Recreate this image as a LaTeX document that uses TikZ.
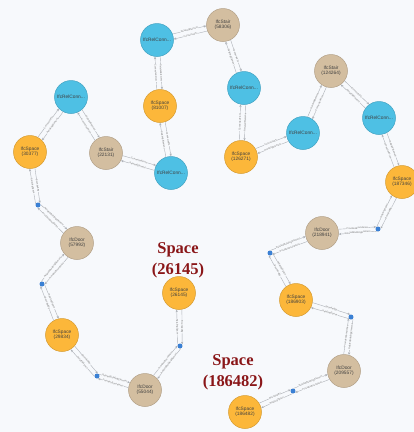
\documentclass[tikz,border=0pt]{standalone}
\usepackage{fontspec}
\setmainfont{Liberation Serif}
\newfontfamily\graphfont{Liberation Sans}
\usetikzlibrary{arrows.meta,calc}
\definecolor{bgpale}{RGB}{247,249,252}
\definecolor{relblue}{RGB}{78,192,228}
\definecolor{spaceorange}{RGB}{252,183,58}
\definecolor{elemtan}{RGB}{211,190,160}
\definecolor{linkgray}{RGB}{172,176,182}
\definecolor{dotblue}{RGB}{58,128,212}
\definecolor{titlered}{RGB}{138,22,24}

\tikzset{
  ent/.style={circle,minimum size=33pt,inner sep=0pt,align=center,line width=0.5pt,
    font=\graphfont\fontsize{4.8}{5.4}\selectfont,text=black!75},
  relc/.style={ent,fill=relblue,draw=relblue!85!black},
  spc/.style={ent,fill=spaceorange,draw=spaceorange!85!black},
  elm/.style={ent,fill=elemtan,draw=elemtan!85!black},
  bnd/.style={circle,fill=dotblue,minimum size=5pt,inner sep=0pt},
  link/.style={draw=linkgray,line width=0.4pt,-{Stealth[length=2.6pt,width=2.2pt]}},
  linklbl/.style={sloped,fill=bgpale,inner sep=0.3pt,text=black!55,
    font=\graphfont\fontsize{2.4}{2.6}\selectfont},
  callout/.style={align=center,text=titlered,font=\fontsize{16.5}{21}\selectfont\bfseries}
}

% two opposite arrows between a pair of nodes (#5 = spread at the far end)
\newcommand{\twoway}[5]{%
  \pgfmathanglebetweenpoints{\pgfpointanchor{#1}{center}}{\pgfpointanchor{#2}{center}}%
  \let\ang\pgfmathresult
  \pgfmathsetmacro\angA{\ang+9}\pgfmathsetmacro\angB{\ang+180-#5}%
  \pgfmathsetmacro\angC{\ang+180+#5}\pgfmathsetmacro\angD{\ang-9}%
  \draw[link] (#1.\angA) -- node[linklbl]{#3} (#2.\angB);
  \draw[link] (#2.\angC) -- node[linklbl]{#4} (#1.\angD);
}

\begin{document}
\begin{tikzpicture}[x=1pt,y=-1pt]
\fill[bgpale] (0,0) rectangle (414,432);
\useasboundingbox (0,0) rectangle (414,432);

% --- relation nodes ---
\node[relc] (rcA) at (157,40) {IfcRelConn...};
\node[relc] (rcB) at (71,97) {IfcRelConn...};
\node[relc] (rcC) at (171,173) {IfcRelConn...};
\node[relc] (rcD) at (244,88) {IfcRelConn...};
\node[relc] (rcE) at (303,133) {IfcRelConn...};
\node[relc] (rcF) at (379,118) {IfcRelConn...};

% --- stairs and doors ---
\foreach \x/\y/\t in {223/25/58306, 106/153/22131, 331/71/124264}
  \node[elm] (st\t) at (\x,\y) {IfcStair\\(\t)};
\foreach \x/\y/\t in {77/243/57992, 145/390/55044, 322/233/218941, 344/371/209557}
  \node[elm] (dr\t) at (\x,\y) {IfcDoor\\(\t)};

% --- spaces ---
\foreach \x/\y/\t in {160/106/81007, 30/152/30377, 241/157/126271, 402/182/187346,
    179/293/26145, 62/335/29834, 296/300/186903, 245/412/186482}
  \node[spc] (sp\t) at (\x,\y) {IfcSpace\\(\t)};

% --- space boundaries ---
\foreach \x/\y/\t in {38/205/1, 42/284/2, 180/346/3, 97/376/4, 378/229/5, 270/253/6, 351/317/7, 293/391/8}
  \node[bnd] (bd\t) at (\x,\y) {};

% --- links ---
\foreach \a/\b/\la/\lb in {
    rcA/st58306/RelatingElement/ConnectedTo, rcA/sp81007/RelatedElement/ConnectedFrom,
    sp81007/rcC/ConnectedTo/RelatingElement, st22131/rcC/ConnectedFrom/RelatedElement,
    rcB/st22131/RelatedElement/ConnectedFrom, rcB/sp30377/RelatingElement/ConnectedTo,
    st58306/rcD/ConnectedTo/RelatingElement, rcD/sp126271/RelatedElement/ConnectedFrom,
    sp126271/rcE/ConnectedTo/RelatingElement, rcE/st124264/RelatedElement/ConnectedFrom,
    st124264/rcF/ConnectedTo/RelatingElement, rcF/sp187346/RelatedElement/ConnectedFrom}
  \twoway{\a}{\b}{\la}{\lb}{9};
\foreach \a/\b in {sp30377/bd1, sp29834/bd2, sp26145/bd3, sp29834/bd4,
    sp187346/bd5, sp186903/bd6, sp186903/bd7, sp186482/bd8}
  \twoway{\a}{\b}{BoundedBy}{RelatingSpace}{55};
\foreach \a/\b in {dr57992/bd1, dr57992/bd2, dr55044/bd3, dr55044/bd4,
    dr218941/bd5, dr218941/bd6, dr209557/bd7, dr209557/bd8}
  \twoway{\a}{\b}{ProvidesBoundaries}{RelatedBuildingElement}{55};

% --- callouts ---
\node[callout] (lbl26145) at (178,260) {Space\\(26145)};
\node[callout] (lbl186482) at (233,372) {Space\\(186482)};
\end{tikzpicture}
\end{document}
